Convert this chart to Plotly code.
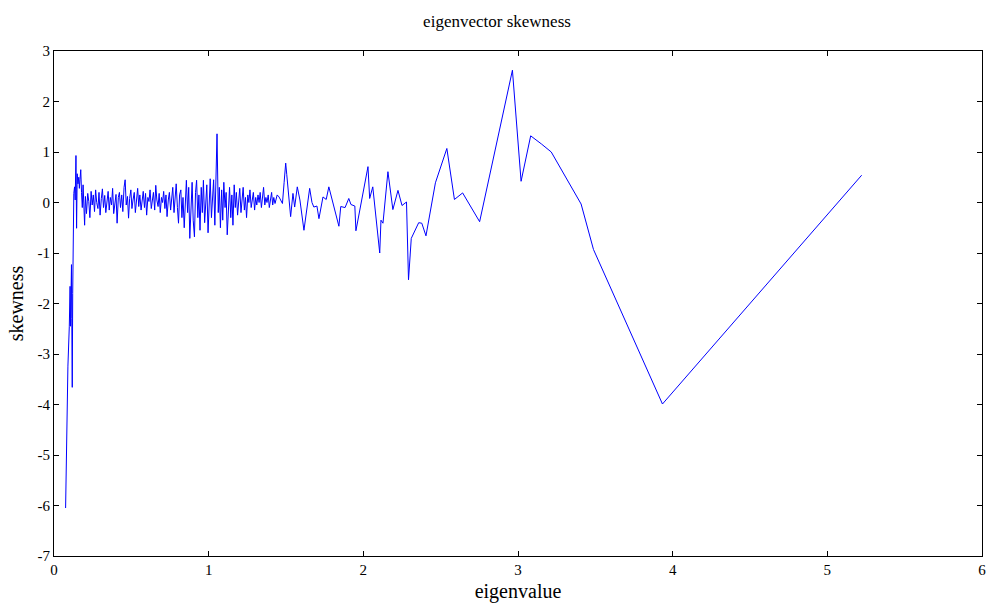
import plotly.graph_objects as go

# Low end of the spectrum: steep rise from the smallest eigenvalues
x_low = [0.075, 0.077, 0.080, 0.086, 0.090, 0.099, 0.104, 0.107, 0.110, 0.113,
         0.115, 0.118, 0.121, 0.125, 0.128, 0.133, 0.137, 0.142, 0.146, 0.150,
         0.155, 0.160, 0.164, 0.168, 0.173, 0.178, 0.183, 0.188, 0.193, 0.198]
y_low = [-6.05, -5.66, -4.88, -4.02, -3.24, -2.45, -1.66, -2.45, -1.66, -1.23,
         -2.30, -3.66, -1.80, 0.15, 0.18, 0.31, 0.05, 0.93, -0.51, 0.57,
         0.37, 0.50, 0.28, 0.45, 0.65, 0.20, -0.10, 0.35, -0.10, -0.45]

# Bulk of the spectrum: densely packed eigenvalues
x_bulk = [
    0.203, 0.210, 0.218, 0.225, 0.232, 0.240, 0.247, 0.254, 0.262, 0.269,
    0.276, 0.284, 0.291, 0.298, 0.306, 0.313, 0.320, 0.328, 0.335, 0.342,
    0.350, 0.357, 0.364, 0.372, 0.379, 0.386, 0.394, 0.401, 0.408, 0.416,
    0.423, 0.430, 0.438, 0.445, 0.453, 0.460, 0.467, 0.475, 0.482, 0.489,
    0.497, 0.504, 0.511, 0.519, 0.526, 0.533, 0.541, 0.548, 0.555, 0.563,
    0.570, 0.577, 0.585, 0.592, 0.599, 0.607, 0.614, 0.621, 0.629, 0.636,
    0.643, 0.651, 0.658, 0.665, 0.673, 0.680, 0.687, 0.695, 0.702, 0.709,
    0.717, 0.724, 0.731, 0.739, 0.746, 0.754, 0.761, 0.768, 0.776, 0.783,
    0.790, 0.798, 0.805, 0.812, 0.820, 0.827, 0.834, 0.842, 0.849, 0.856,
    0.864, 0.871, 0.878, 0.886, 0.893, 0.900, 0.908, 0.915, 0.922, 0.930,
    0.937, 0.944, 0.952, 0.959, 0.966, 0.974, 0.981, 0.988, 0.996, 1.003,
    1.010, 1.018, 1.025, 1.032, 1.040, 1.047, 1.054, 1.062, 1.069, 1.076,
    1.084, 1.091, 1.098, 1.106, 1.113, 1.120, 1.128, 1.135, 1.143, 1.150,
    1.157, 1.165, 1.172, 1.179, 1.187, 1.194, 1.201, 1.209, 1.216, 1.223,
    1.231, 1.238, 1.245, 1.253, 1.260, 1.267, 1.275, 1.282, 1.289, 1.297,
    1.304, 1.311, 1.319, 1.326, 1.333, 1.341, 1.348, 1.355, 1.363, 1.370,
    1.377, 1.385, 1.392, 1.399, 1.407, 1.414, 1.421, 1.429, 1.436, 1.443,
]
y_bulk = [
    0.12, -0.22, 0.18, 0.02, -0.30, 0.22, -0.05, 0.15, -0.18, 0.25,
    0.00, -0.12, 0.20, -0.25, 0.08, 0.27, -0.10, 0.14, -0.20, 0.05,
    0.22, -0.15, 0.10, -0.05, 0.28, -0.22, 0.00, 0.16, -0.41, 0.10,
    0.20, -0.10, 0.15, -0.18, 0.30, 0.45, -0.05, 0.12, -0.31, 0.08,
    0.25, -0.12, 0.05, 0.20, -0.20, 0.10, 0.28, -0.08, 0.15, -0.15,
    0.05, 0.22, -0.10, 0.18, -0.25, 0.10, 0.02, 0.25, -0.12, 0.08,
    0.20, -0.15, 0.34, 0.05, -0.08, 0.18, -0.20, 0.10, 0.00, 0.22,
    -0.12, 0.15, -0.28, 0.05, 0.20, -0.15, 0.10, 0.30, -0.20, 0.12,
    0.37, -0.10, -0.41, 0.15, 0.25, -0.30, 0.10, -0.50, 0.20, 0.44,
    -0.20, 0.30, -0.71, 0.10, 0.40, -0.35, -0.68, 0.20, 0.44, -0.30,
    0.15, -0.55, 0.30, -0.20, 0.44, -0.40, 0.10, 0.35, -0.60, 0.20,
    0.47, -0.30, 0.10, 0.45, -0.45, 0.60, 1.36, -0.20, 0.30, -0.50,
    0.25, -0.35, 0.40, -0.10, 0.20, -0.64, 0.05, 0.30, -0.30, 0.15,
    -0.45, 0.35, -0.10, 0.20, -0.25, 0.10, 0.28, -0.20, 0.05, 0.30,
    -0.15, 0.10, -0.30, 0.15, 0.00, 0.25, -0.10, 0.05, 0.20, -0.15,
    0.10, -0.05, 0.15, 0.00, 0.20, -0.10, 0.08, 0.30, -0.05, 0.10,
    0.00, 0.15, -0.10, 0.05, 0.20, -0.05, 0.10, -0.02, 0.08, 0.15,
]

# Upper part of the spectrum: sparse eigenvalues
x_high = [1.455, 1.466, 1.477, 1.488, 1.498, 1.505, 1.512, 1.520, 1.530, 1.545,
          1.556, 1.573, 1.590, 1.616, 1.653, 1.668, 1.680, 1.700, 1.713, 1.739,
          1.760, 1.777, 1.842, 1.854, 1.882, 1.906, 1.920, 1.945, 1.952, 2.030,
          2.041, 2.061, 2.082, 2.106, 2.114, 2.127, 2.159, 2.191, 2.224, 2.250,
          2.279, 2.292, 2.310, 2.358, 2.378, 2.405, 2.466, 2.540, 2.589, 2.642,
          2.752, 2.964, 3.020, 3.082, 3.151, 3.215, 3.408, 3.488, 3.934, 5.222]
y_high = [0.11, 0.05, -0.02, 0.40, 0.78, 0.55, 0.30, 0.05, -0.28, 0.18,
          -0.09, 0.31, 0.05, -0.55, 0.28, 0.00, -0.09, -0.07, -0.32, 0.11,
          0.06, 0.31, -0.47, -0.08, -0.10, 0.08, -0.04, -0.07, -0.56, 0.71,
          0.08, 0.31, -0.35, -1.00, -0.35, -0.41, 0.61, -0.14, 0.24, -0.06,
          0.01, -1.53, -0.71, -0.40, -0.41, -0.66, 0.39, 1.07, 0.06, 0.19,
          -0.38, 2.62, 0.42, 1.32, 1.16, 1.00, -0.03, -0.93, -3.99, 0.54]

eigenvalue = x_low + x_bulk + x_high
skewness = y_low + y_bulk + y_high

x_ticks = [0, 1, 2, 3, 4, 5, 6]
y_ticks = [3, 2, 1, 0, -1, -2, -3, -4, -5, -6, -7]

serif = "Liberation Serif, Times New Roman, serif"

fig = go.Figure(
    go.Scatter(
        x=eigenvalue,
        y=skewness,
        mode="lines",
        line=dict(color="#0000ff", width=1),
        hoverinfo="x+y",
    )
)

axis_style = dict(
    showgrid=False,
    zeroline=False,
    showline=True,
    linecolor="black",
    linewidth=1,
    mirror="ticks",
    ticks="inside",
    ticklen=5,
    tickwidth=1,
    tickcolor="black",
    tickfont=dict(family=serif, size=15, color="black"),
)

fig.update_xaxes(
    range=[0, 6],
    tickvals=x_ticks,
    ticktext=[str(v) for v in x_ticks],
    title=dict(text="eigenvalue", font=dict(family=serif, size=20, color="black"), standoff=6),
    **axis_style,
)
fig.update_yaxes(
    range=[-7, 3],
    tickvals=y_ticks,
    ticktext=[str(v) for v in y_ticks],
    title=dict(text="skewness", font=dict(family=serif, size=20, color="black"), standoff=8),
    **axis_style,
)

fig.update_layout(
    width=994,
    height=606,
    margin=dict(l=54, r=8, t=51, b=48),
    paper_bgcolor="white",
    plot_bgcolor="white",
    showlegend=False,
    title=dict(
        text="eigenvector skewness",
        x=0.5,
        xanchor="center",
        y=0.965,
        yanchor="middle",
        font=dict(family=serif, size=17, color="black"),
    ),
)

fig.write_html("out.html")
